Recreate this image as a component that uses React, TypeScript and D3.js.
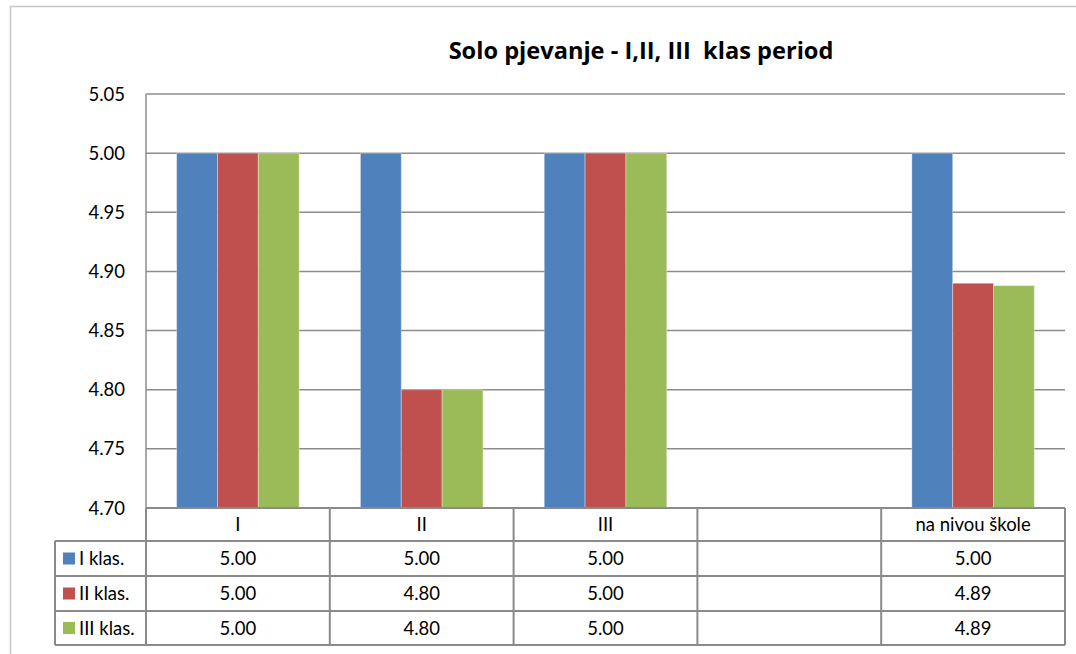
import React from "react";
import * as d3 from "d3";

const categories = ["I", "II", "III", "", "na nivou škole"];
const seriesNames = ["I klas.", "II klas.", "III klas."];
const klas1: (number | null)[] = [5.0, 5.0, 5.0, null, 5.0];
const klas2: (number | null)[] = [5.0, 4.8, 5.0, null, 4.89];
const klas3: (number | null)[] = [5.0, 4.8, 5.0, null, 4.888];
const yTicks = [4.7, 4.75, 4.8, 4.85, 4.9, 4.95, 5.0, 5.05];
const colors = ["#4F81BD", "#C0504D", "#9BBB59"];
const title = "Solo pjevanje - I,II, III  klas period";

const W = 1076;
const H = 654;
const FONT = "Lato, 'Open Sans', sans-serif";
const FS = 18.5;

export default function App() {
  const series = [klas1, klas2, klas3];
  const left = 146;
  const right = 1065;
  const top = 94;
  const bottom = 508;
  const x = d3.scaleBand<string>().domain(categories.map((c, i) => String(i))).range([left, right]).padding(0);
  const step = x.step();
  const inner = d3
    .scaleBand<string>()
    .domain(seriesNames)
    .range([step / 6, step - step / 6])
    .padding(0);
  const y = d3.scaleLinear().domain([4.7, 5.05]).range([bottom, top]);

  const rowTops = [bottom, 541, 576, 611, 645];
  const legendLeft = 55;
  const gridColor = "#8c8c8c";
  const tableColor = "#8a8a8a";

  return (
    <svg width={W} height={H} style={{ position: "absolute", left: 0, top: 0, fontFamily: FONT }}>
      <rect x={0} y={0} width={W} height={H} fill="#fff" />
      <rect x={10.5} y={6.5} width={1200} height={800} fill="none" stroke="#c8c8c8" strokeWidth={1.5} />
      <text
        x={641}
        y={59}
        textAnchor="middle"
        fontSize={23.6}
        fontWeight="bold"
        fill="#000"
        style={{ whiteSpace: "pre", fontFamily: "'Open Sans', sans-serif" }}
      >
        {title}
      </text>
      {/* gridlines */}
      {yTicks.map((t) => (
        <g key={t}>
          <line x1={left} x2={right} y1={y(t)} y2={y(t)} stroke={gridColor} strokeWidth={1.5} />
          <text x={125} y={y(t) + 6.5} textAnchor="end" fontSize={FS} fill="#000">
            {t.toFixed(2)}
          </text>
        </g>
      ))}
      {/* bars */}
      {categories.map((c, ci) =>
        series.map((s, si) => {
          const v = s[ci];
          if (v == null) return null;
          const bx = (x(String(ci)) as number) + (inner(seriesNames[si]) as number);
          return (
            <rect
              key={`${ci}-${si}`}
              x={bx}
              y={y(v)}
              width={inner.bandwidth()}
              height={bottom - y(v)}
              fill={colors[si]}
              stroke="#ffffff"
              strokeOpacity={0.35}
              strokeWidth={1}
            />
          );
        })
      )}
      {/* axis line */}
      <line x1={left} x2={left} y1={top} y2={bottom} stroke={gridColor} strokeWidth={1.5} />
      {/* table */}
      <g stroke={tableColor} strokeWidth={2} fill="none">
        <line x1={left} x2={right} y1={rowTops[0]} y2={rowTops[0]} />
        {rowTops.slice(1).map((ry) => (
          <line key={ry} x1={legendLeft} x2={right} y1={ry} y2={ry} />
        ))}
        <line x1={legendLeft} x2={legendLeft} y1={rowTops[1]} y2={rowTops[4]} />
        {categories.map((c, ci) => (
          <line key={ci} x1={x(String(ci)) as number} x2={x(String(ci)) as number} y1={rowTops[0]} y2={rowTops[4]} />
        ))}
        <line x1={right} x2={right} y1={rowTops[0]} y2={rowTops[4]} />
      </g>
      {categories.map((c, ci) => (
        <text
          key={`h${ci}`}
          x={(x(String(ci)) as number) + step / 2}
          y={(rowTops[0] + rowTops[1]) / 2 + 6.5}
          textAnchor="middle"
          fontSize={FS}
          fill="#000"
        >
          {c}
        </text>
      ))}
      {series.map((s, si) => {
        const ry0 = rowTops[si + 1];
        const ry1 = rowTops[si + 2];
        const cy = (ry0 + ry1) / 2;
        return (
          <g key={`r${si}`}>
            <rect x={63} y={cy - 6} width={12} height={12} fill={colors[si]} />
            <text x={79} y={cy + 6.5} fontSize={FS} fill="#000">
              {seriesNames[si]}
            </text>
            {s.map((v, ci) =>
              v == null ? null : (
                <text
                  key={ci}
                  x={(x(String(ci)) as number) + step / 2}
                  y={cy + 6.5}
                  textAnchor="middle"
                  fontSize={FS}
                  fill="#000"
                >
                  {v.toFixed(2)}
                </text>
              )
            )}
          </g>
        );
      })}
    </svg>
  );
}
